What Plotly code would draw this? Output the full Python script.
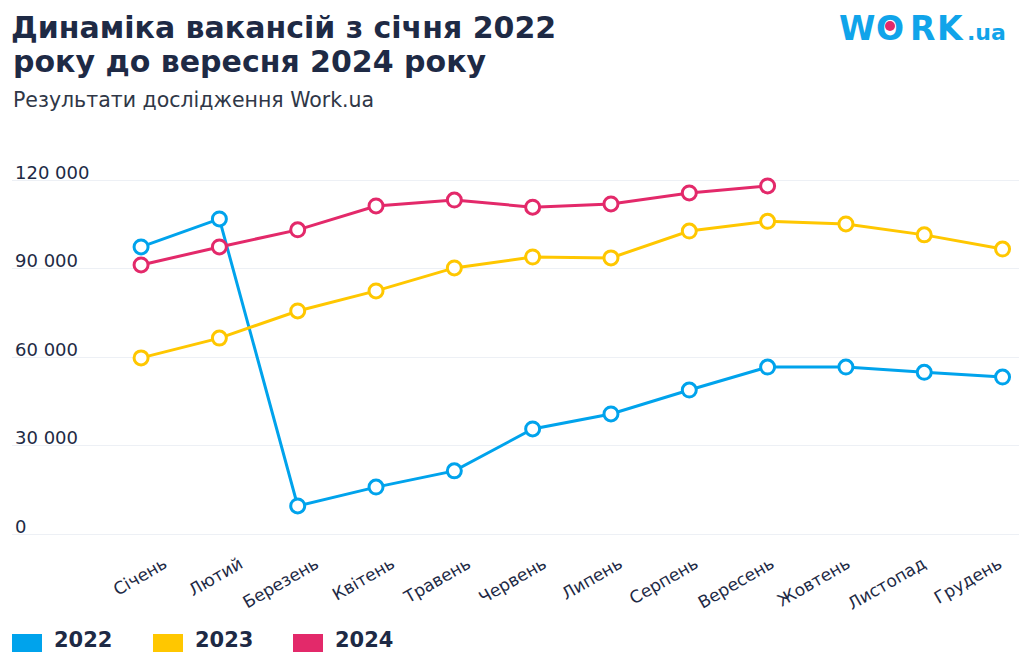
import plotly.graph_objects as go

months = ["Січень", "Лютий", "Березень", "Квітень", "Травень", "Червень",
          "Липень", "Серпень", "Вересень", "Жовтень", "Листопад", "Грудень"]
v2022 = [97300, 106800, 9500, 15900, 21400, 35600, 40700, 48800, 56600, 56600, 54800, 53200]
v2023 = [59700, 66400, 75600, 82400, 90200, 93900, 93600, 102700, 106000, 105100, 101400, 96600]
v2024 = [91200, 97300, 103100, 111200, 113200, 110800, 111900, 115600, 118000]
years = ["2022", "2023", "2024"]
colors = ["#00A3EC", "#FFC700", "#E3296A"]
ytick_vals = [0, 30000, 60000, 90000, 120000]
ytick_text = ["0", "30 000", "60 000", "90 000", "120 000"]

TEXT = "#1E2A45"
FONT = "DejaVu Sans"
W, H = 1019, 652
L, T, B = 12, 140, 112          # margins (px)
PH = H - T - B                  # plot height px
PW = W - L


def px_x(x):   # figure pixel -> paper x
    return (x - L) / PW


def px_y(y):   # figure pixel -> paper y
    return (H - B - y) / PH


fig = go.Figure()
for name, vals, col in zip(years, [v2022, v2023, v2024], colors):
    fig.add_trace(go.Scatter(
        x=months[:len(vals)], y=vals, name=name, mode="lines+markers",
        line=dict(color=col, width=3),
        marker=dict(size=14, color="white", line=dict(color=col, width=3)),
        cliponaxis=False, showlegend=False,
    ))
# invisible trace that carries the month labels axis (labels sit slightly tighter than points)
fig.add_trace(go.Scatter(x=months, y=[None] * len(months), xaxis="x2", mode="lines",
                         showlegend=False, hoverinfo="skip"))

# y range so that 0 -> 534 px and 120000 -> 180 px
ppk = (534 - 180) / 120.0
y_top = (534 - T) / ppk * 1000
y_bot = (534 - (H - B)) / ppk * 1000

fig.update_layout(
    width=W, height=H,
    margin=dict(l=L, r=0, t=T, b=B, autoexpand=False),
    paper_bgcolor="white", plot_bgcolor="white",
    font=dict(family=FONT, color=TEXT),
    showlegend=False,
    title=dict(text="<b>Динаміка вакансій з січня 2022</b>",
               xref="container", yref="container",
               x=11 / W, xanchor="left", y=1 - 27 / H, yanchor="middle",
               pad=dict(t=0, b=0, l=0, r=0),
               font=dict(size=30, color=TEXT, family=FONT)),
    xaxis=dict(type="category", categoryorder="array", categoryarray=months,
               range=[-1.648, 11.21], showgrid=False, zeroline=False, showline=False,
               ticks="", showticklabels=False),
    xaxis2=dict(type="category", categoryorder="array", categoryarray=months,
                overlaying="x", side="bottom", anchor="y",
                range=[-2.0026, 11.265], showgrid=False, zeroline=False, showline=False,
                ticks="", tickangle=-30, ticklabelstandoff=10,
                tickfont=dict(size=17, color=TEXT, family=FONT)),
    yaxis=dict(range=[y_bot, y_top], tickvals=ytick_vals, ticktext=ytick_text,
               ticklabelposition="inside top", ticklabelshift=5, ticklabelstandoff=0,
               showgrid=True, gridcolor="#EDF0F5", gridwidth=1,
               zeroline=False, showline=False, ticks="",
               tickfont=dict(size=18, color=TEXT, family=FONT)),
)

ann = []


def add_text(text, x, y, size, color=TEXT, xanchor="left", yanchor="middle"):
    ann.append(dict(text=text, x=px_x(x), y=px_y(y), xref="paper", yref="paper",
                    xanchor=xanchor, yanchor=yanchor, showarrow=False,
                    font=dict(size=size, color=color, family=FONT)))


add_text("<b>року до вересня 2024 року</b>", 11, 61, 30)
add_text("Результати дослідження Work.ua", 11, 100, 20.5, color="#2F3747")

# logo
LOGO = "#10A4EA"
for ch, cx in zip("WORK", [857, 890, 922, 950]):
    add_text("<b>" + ch + "</b>", cx, 29, 33, color=LOGO, xanchor="center")
add_text("<b>.ua</b>", 965, 32, 22, color=LOGO)

shapes = [dict(type="circle", xref="paper", yref="paper",
               x0=px_x(885), x1=px_x(895), y0=px_y(31), y1=px_y(21),
               fillcolor="#E3296A", line=dict(width=0))]

# legend
lx = [12, 153, 293]
for name, col, x0 in zip(years, colors, lx):
    shapes.append(dict(type="rect", xref="paper", yref="paper",
                       x0=px_x(x0), x1=px_x(x0 + 30), y0=px_y(664), y1=px_y(634),
                       fillcolor=col, line=dict(width=0), layer="above"))
    add_text("<b>" + name + "</b>", x0 + 40, 640, 21)

fig.update_layout(annotations=ann, shapes=shapes)
fig.write_html("out.html")
